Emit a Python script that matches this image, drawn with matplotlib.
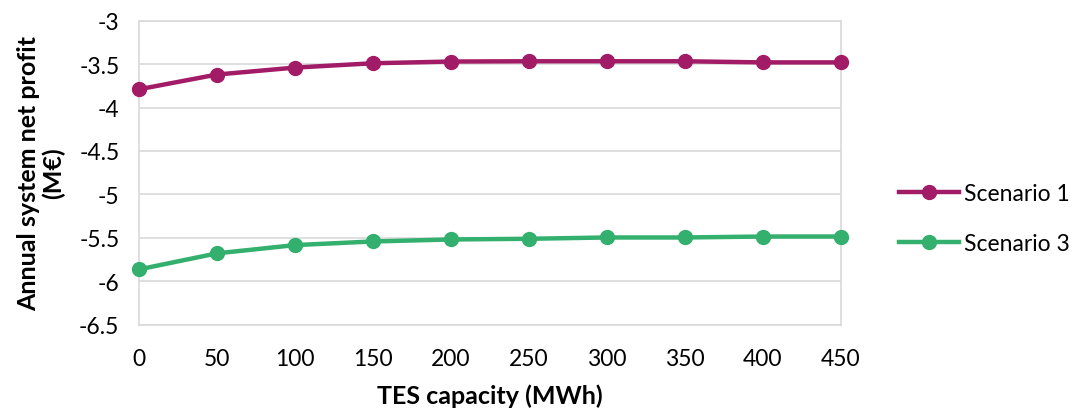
import numpy as np
import matplotlib.pyplot as plt

plt.rcParams['font.family'] = ['Lato', 'DejaVu Sans']

# data
tes_capacity = [0, 50, 100, 150, 200, 250, 300, 350, 400, 450]
scenario_1 = [-3.79, -3.62, -3.54, -3.49, -3.47, -3.467, -3.467, -3.467, -3.48, -3.48]
scenario_3 = [-5.865, -5.68, -5.585, -5.543, -5.52, -5.512, -5.497, -5.497, -5.486, -5.486]
y_ticks = [-3, -3.5, -4, -4.5, -5, -5.5, -6, -6.5]

PURPLE = '#A21B67'
GREEN = '#33AF6E'
GRID = '#D9D9D9'

fig = plt.figure(figsize=(10.85, 4.1), dpi=100)
ax = fig.add_axes([0.128, 0.206, 0.647, 0.741])

ax.plot(tes_capacity, scenario_1, color=PURPLE, lw=3.2, marker='o', ms=10,
        label='Scenario 1', clip_on=False, zorder=3)
ax.plot(tes_capacity, scenario_3, color=GREEN, lw=3.2, marker='o', ms=10,
        label='Scenario 3', clip_on=False, zorder=3)

ax.set_xlim(0, 450)
ax.set_ylim(-6.5, -3)
ax.set_xticks(tes_capacity)
ax.set_yticks(y_ticks)
ax.set_yticklabels([f'{v:g}' for v in y_ticks])
ax.grid(axis='y', color=GRID, lw=1.2)
ax.set_axisbelow(True)
for s in ax.spines.values():
    s.set_color(GRID)
    s.set_linewidth(1.2)
ax.tick_params(length=0, labelsize=16.5, colors='#000000')
ax.tick_params(axis='y', pad=14)
ax.tick_params(axis='x', pad=17)

ax.set_xlabel('TES capacity (MWh)', fontsize=18, fontweight='bold', labelpad=10)
ax.set_ylabel('Annual system net profit\n(M€)', fontsize=18, fontweight='bold',
              labelpad=10, linespacing=1.1)

ax.legend(loc='center left', bbox_to_anchor=(0.81, 0.465),
          bbox_transform=fig.transFigure, frameon=False,
          fontsize=16.5, handlelength=2.6, labelspacing=1.25, handletextpad=0.2)

fig.savefig('out.png', dpi=100)
